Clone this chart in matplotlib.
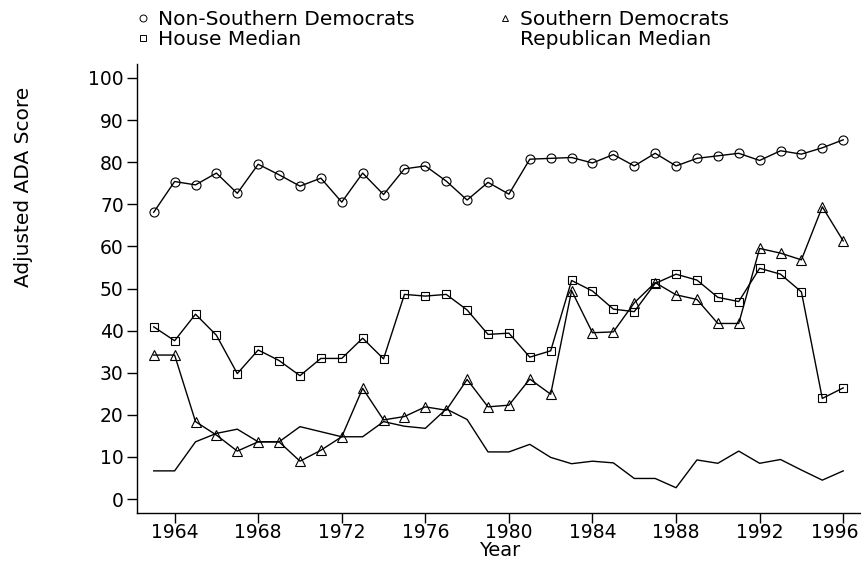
import matplotlib
matplotlib.use("Agg")
import matplotlib.pyplot as plt
from matplotlib.lines import Line2D
from matplotlib.transforms import ScaledTranslation

plt.rcParams["font.family"] = ["DejaVu Sans"]

years = list(range(1963, 1997))

non_southern_dem = [68.1, 75.4, 74.6, 77.4, 72.6, 79.5, 77.0, 74.3, 76.2, 70.5,
                    77.4, 72.3, 78.4, 79.1, 75.5, 71.0, 75.2, 72.4, 80.7, 80.9,
                    81.1, 79.8, 81.8, 79.1, 82.1, 79.1, 80.9, 81.5, 82.1, 80.4,
                    82.7, 81.9, 83.4, 85.3]

southern_dem = [34.2, 34.2, 18.4, 15.2, 11.4, 13.6, 13.6, 9.0, 11.6, 14.8,
                26.3, 18.8, 19.6, 21.9, 21.1, 28.4, 21.9, 22.3, 28.5, 24.9,
                49.5, 39.5, 39.7, 46.6, 51.4, 48.5, 47.4, 41.7, 41.7, 59.5,
                58.4, 56.8, 69.4, 61.3]

house_median = [40.9, 37.6, 43.9, 38.9, 29.8, 35.4, 32.9, 29.3, 33.4, 33.4,
                38.2, 33.3, 48.6, 48.2, 48.6, 44.9, 39.1, 39.4, 33.7, 35.2,
                51.9, 49.4, 45.1, 44.5, 51.2, 53.4, 52.0, 47.9, 46.9, 54.8,
                53.4, 49.2, 23.9, 26.4]

republican_median = [6.7, 6.7, 13.6, 15.6, 16.6, 13.6, 13.6, 17.2, 16.0, 14.8,
                     14.8, 18.4, 17.3, 16.8, 21.4, 18.9, 11.2, 11.2, 13.0, 9.9,
                     8.4, 9.0, 8.6, 4.9, 4.9, 2.7, 9.3, 8.5, 11.4, 8.5,
                     9.4, 6.9, 4.5, 6.7]

x_ticks = [1964, 1968, 1972, 1976, 1980, 1984, 1988, 1992, 1996]
y_ticks = [0, 10, 20, 30, 40, 50, 60, 70, 80, 90, 100]

W, H = 862, 565
fig = plt.figure(figsize=(W / 100, H / 100), dpi=100)
ax = fig.add_axes([137 / W, 1 - 513 / H, (862 - 137) / W, (513 - 64) / H])

lw = 1.0
mk = dict(markerfacecolor="none", markeredgecolor="black", markeredgewidth=0.8)
ax.plot(years, non_southern_dem, color="black", lw=lw, marker="o",
        markersize=6.5, **mk)
ax.plot(years, house_median, color="black", lw=lw, marker="s",
        markersize=6.2, **mk)
ax.plot(years, southern_dem, color="black", lw=lw, marker="^",
        markersize=7, **mk)
ax.plot(years, republican_median, color="black", lw=lw)

ax.set_xlim(1962.2, 1996.9)
ax.set_ylim(-3.3, 103.3)
ax.set_xticks(x_ticks)
ax.set_xticklabels([str(v) for v in x_ticks])
ax.set_yticks(y_ticks)
for s in ("top", "right"):
    ax.spines[s].set_visible(False)
for s in ("left", "bottom"):
    ax.spines[s].set_linewidth(1.0)
ax.tick_params(direction="out", length=7.5, width=1.0, labelsize=13.5)
ax.tick_params(axis="x", pad=0)
ax.tick_params(axis="y", pad=2)

# keep the last year label inside the canvas
last = ax.get_xticklabels()[-1]
last.set_transform(last.get_transform()
                   + ScaledTranslation(-8 / 100, 0, fig.dpi_scale_trans))

fig.text(500 / W, 1 - 550 / H, "Year", ha="center", va="center", fontsize=14)
fig.text(24 / W, 1 - 187 / H, "Adjusted ADA Score", rotation=90,
         ha="center", va="center", fontsize=14.5)

hmk = dict(color="black", linestyle="none", markerfacecolor="none",
           markeredgecolor="black", markeredgewidth=0.7, markersize=5)
col1 = [Line2D([], [], marker="o", **hmk), Line2D([], [], marker="s", **hmk)]
col2 = [Line2D([], [], marker="^", **hmk), Line2D([], [], linestyle="none")]
leg_kw = dict(loc="upper left", frameon=False, borderpad=0, borderaxespad=0,
              handlelength=0.8, handletextpad=0.38, labelspacing=0.05,
              fontsize=14.5, bbox_transform=fig.transFigure)
leg1 = fig.legend(col1, ["Non-Southern Democrats", "House Median"],
                  bbox_to_anchor=(134.7 / W, 1 - 10 / H), **leg_kw)
leg2 = fig.legend(col2, ["Southern Democrats", "Republican Median"],
                  bbox_to_anchor=(496.7 / W, 1 - 10 / H), **leg_kw)

fig.savefig("out.png", dpi=100)
